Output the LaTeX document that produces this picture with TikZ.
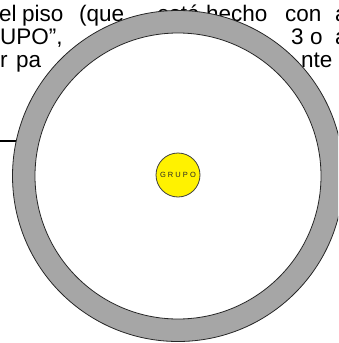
\documentclass[tikz,border=0pt]{standalone}
\usepackage{fontspec}
\setmainfont{Liberation Sans}
\begin{document}
\begin{tikzpicture}[x=1pt,y=-1pt,
  word/.style={anchor=base west, inner sep=0pt, font=\fontsize{22.5}{26}\selectfont},
  ring/.style={fill=ringgray, draw=black!85, line width=0.8pt},
  hole/.style={fill=white, draw=black!85, line width=0.8pt},
  grupobox/.style={circle, fill=yellow, draw=black!75, line width=0.8pt, minimum size=44pt, inner sep=0pt, font=\fontsize{7.5}{8}\selectfont, text=black!85}]
\definecolor{ringgray}{RGB}{166,166,166}
\useasboundingbox (0,0) rectangle (338,343);
\clip (0,0) rectangle (338,343);
% line 1
\node[word] (w1) at (-1,21.5) {el};
\node[word] (w2) at (22,21.5) {piso};
\node[word] (w3) at (79,21.5) {(que};
\node[word] (w4) at (157,21.5) {está};
\node[word] (w5) at (206,21.5) {hecho};
\node[word] (w6) at (285,21.5) {con};
\node[word] (w7) at (335,21.5) {a};
% line 2
\node[word] (v1) at (0,44.5) {UPO”,};
\node[word] (v2) at (291,44.5) {3};
\node[word] (v3) at (310,44.5) {o};
\node[word] (v4) at (335,44.5) {a};
% line 3
\node[word] (u1) at (0,67) {r};
\node[word] (u2) at (16,67) {pa};
\node[word] (u3) at (301,67) {nte};
% connector line
\coordinate (lstart) at (0,141);
\coordinate (lend) at (25,141);
\draw[line width=1.2pt] (lstart) -- (lend);
% ring
\coordinate (c) at (178,176);
\path[ring] (c) circle (165.5);
\path[hole] (c) circle (143);
\node[grupobox] (grupo) at (178,175) {G R U P O};
\end{tikzpicture}
\end{document}
